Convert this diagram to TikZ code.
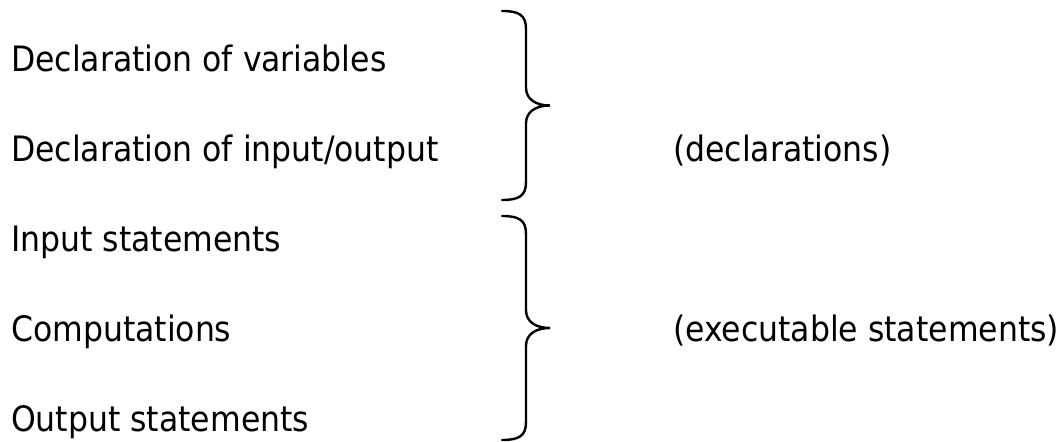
\documentclass[tikz,border=0pt]{standalone}
\usepackage{fontspec}
\setmainfont{DejaVu Sans Condensed}

% curly brace opening to the left: #1 x of arm ends, #2 top y, #3 bottom y
\newcommand{\curlybrace}[3]{%
  \def\m{(#2+#3)/2}
  \draw (#1,#2) .. controls ({#1+17},#2) and ({#1+24},{#2+4}) .. ({#1+24},{#2+18})
    -- ({#1+24},{\m-18}) .. controls ({#1+24},{\m-6}) and ({#1+34},{\m}) .. ({#1+48},{\m})
    .. controls ({#1+34},{\m}) and ({#1+24},{\m+6}) .. ({#1+24},{\m+18})
    -- ({#1+24},{#3-18}) .. controls ({#1+24},{#3-4}) and ({#1+17},#3) .. (#1,#3);}

\begin{document}
\begin{tikzpicture}[x=0.5pt, y=-0.5pt, line width=1.2pt, line cap=round,
  every node/.style={font=\fontsize{17.5}{21}\selectfont, inner sep=0pt},
  item/.style={anchor=base west}]
\useasboundingbox (0,0) rectangle (1062,442);
\def\tx{10}
\def\bx{502}
\def\lx{672}
% program parts
\node[item] (vars) at (\tx,72) {Declaration of variables};
\node[item] (io) at (\tx,162) {Declaration of input/output};
\node[item] (inp) at (\tx,252) {Input statements};
\node[item] (comp) at (\tx,342) {Computations};
\node[item] (outp) at (\tx,432) {Output statements};
% braces
\curlybrace{\bx}{11}{200}
\curlybrace{\bx}{216}{440}
\node[item] (decl) at (\lx,162) {(declarations)};
\node[item] (exec) at (\lx,342) {(executable statements)};
\end{tikzpicture}
\end{document}
